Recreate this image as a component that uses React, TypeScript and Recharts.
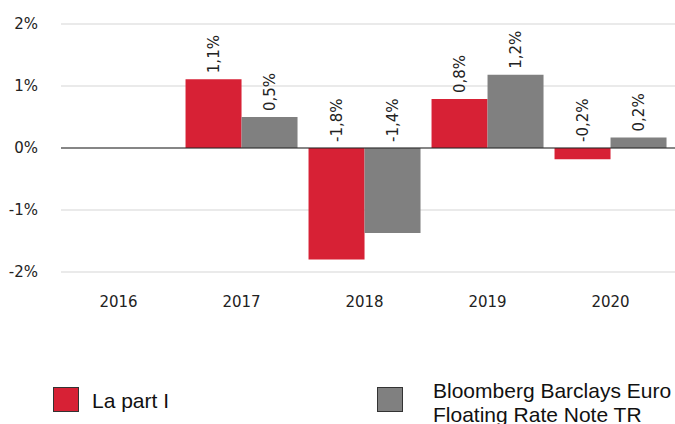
import React from 'react';
import { BarChart, Bar, XAxis, YAxis, CartesianGrid, ReferenceLine, Legend, LabelList } from 'recharts';

const years = ['2016', '2017', '2018', '2019', '2020'];
const partI: (number | null)[] = [null, 1.11, -1.8, 0.79, -0.18];
const benchmark: (number | null)[] = [null, 0.5, -1.37, 1.18, 0.17];
const yTicks = [-2, -1, 0, 1, 2];
const seriesNames = ['La part I', 'Bloomberg Barclays Euro\nFloating Rate Note TR'];

const RED = '#d72135';
const GREY = '#808080';
const TEXT = '#222222';

const data = years.map((y, i) => ({ year: y, partI: partI[i], benchmark: benchmark[i] }));

const fmt = (v: number) => v.toFixed(1).replace('.', ',') + '%';

const BarLabel = (props: any) => {
  const { x, y, width, height, value } = props;
  if (value === null || value === undefined) return null;
  const cx = Number(x) + Number(width) / 2;
  const top = Math.min(Number(y), Number(y) + Number(height));
  const ty = top - 6;
  return (
    <text
      x={cx}
      y={ty}
      dy="0.35em"
      transform={`rotate(-90 ${cx} ${ty})`}
      textAnchor="start"
      fill={TEXT}
      fontSize={15}
      fontFamily="DejaVu Sans"
    >
      {fmt(Number(value))}
    </text>
  );
};

const LegendContent = () => {
  const colors = [RED, GREY];
  const squareLeft = [53, 377];
  const textLeft = [92, 433];
  const textTop = [14, 4];
  return (
    <div style={{ position: 'relative', width: 675, height: 49, fontFamily: 'Liberation Sans', fontSize: 21, lineHeight: '23.5px', color: '#111' }}>
      {seriesNames.map((name, i) => (
        <React.Fragment key={i}>
          <div
            style={{
              position: 'absolute',
              left: squareLeft[i],
              top: 12,
              width: 24,
              height: 23,
              background: colors[i],
              border: '1px solid #333',
            }}
          />
          <div style={{ position: 'absolute', left: textLeft[i], top: textTop[i], whiteSpace: 'pre' }}>{name}</div>
        </React.Fragment>
      ))}
    </div>
  );
};

export default function App() {
  return (
    <div style={{ position: 'absolute', left: 0, top: 0, width: 675, height: 424, overflow: 'hidden', background: '#fff' }}>
      <BarChart
        width={675}
        height={424}
        data={data}
        margin={{ top: 24, right: 0, bottom: 112, left: 0 }}
        barCategoryGap="4.5%"
        barGap={0}
      >
        <CartesianGrid vertical={false} stroke="#e3e3e3" strokeWidth={1.5} />
        <XAxis
          dataKey="year"
          axisLine={false}
          tickLine={false}
          tickSize={0}
          tickMargin={24}
          height={40}
          padding={{ left: -4, right: 3 }}
          tick={{ fill: TEXT, fontSize: 15, fontFamily: 'DejaVu Sans' }}
        />
        <YAxis
          domain={[-2, 2]}
          ticks={yTicks}
          width={61}
          axisLine={false}
          tickLine={false}
          tickSize={0}
          tickMargin={23}
          tickFormatter={(v: number) => `${v}%`}
          tick={{ fill: TEXT, fontSize: 15, fontFamily: 'DejaVu Sans' }}
        />
        <ReferenceLine y={0} stroke="#222" strokeWidth={1.2} />
        <Bar dataKey="partI" name={seriesNames[0]} fill={RED} isAnimationActive={false}>
          <LabelList dataKey="partI" content={BarLabel} />
        </Bar>
        <Bar dataKey="benchmark" name={seriesNames[1]} fill={GREY} isAnimationActive={false}>
          <LabelList dataKey="benchmark" content={BarLabel} />
        </Bar>
        <Legend
          layout="vertical"
          align="center"
          verticalAlign="middle"
          content={LegendContent}
          wrapperStyle={{ position: 'absolute', left: 0, top: 375, width: 675, height: 49 }}
        />
      </BarChart>
    </div>
  );
}
